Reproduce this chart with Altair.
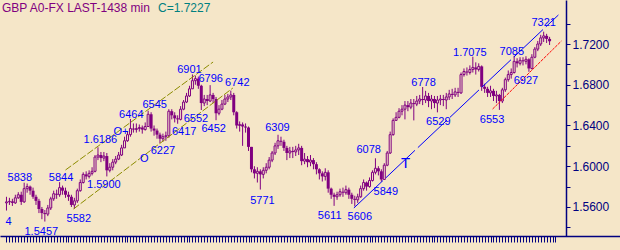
import altair as alt
import pandas as pd

BG = "#F5E6C8"
PURPLE = "#800080"
NAVY = "#000080"
BLUE = "#0000FF"
FONT = "Liberation Sans"

first_open = 15640
closes = [15650, 15655, 15640, 15690, 15720, 15650, 15780, 15800, 15760, 15700,
          15660, 15580, 15540, 15530, 15590, 15680, 15730, 15720, 15790, 15760,
          15720, 15700, 15620, 15660, 15760, 15840, 15920, 15900, 15930, 15950,
          16090, 16110, 16080, 16100, 15960, 15990, 16040, 16070, 16110, 16180,
          16250, 16310, 16370, 16360, 16370, 16380, 16360, 16390, 16510, 16370,
          16350, 16310, 16270, 16290, 16300, 16540, 16500, 16470, 16460, 16560,
          16630, 16690, 16760, 16840, 16860, 16790, 16620, 16660, 16640, 16700,
          16660, 16520, 16560, 16610, 16660, 16680, 16700, 16530, 16400, 16410,
          16390, 16380, 16190, 15970, 15930, 15950, 15920, 15960, 15990, 16060,
          16130, 16200, 16250, 16240, 16180, 16130, 16150, 16140, 16160, 16180,
          16050, 16070, 16040, 16060, 16020, 15970, 15930, 15900, 15940, 15780,
          15720, 15700, 15720, 15750, 15740, 15770, 15720, 15680, 15670, 15700,
          15780, 15840, 15800, 15860, 15940, 15980, 15950, 15870, 16010, 16130,
          16310, 16450, 16480, 16540, 16560, 16600, 16580, 16620, 16610, 16640,
          16660, 16650, 16690, 16640, 16660, 16620, 16650, 16660, 16650, 16680,
          16710, 16700, 16730, 16720, 16900, 16930, 16920, 16950, 16970, 16950,
          16980, 16780, 16760, 16720, 16740, 16690, 16700, 16640, 16750, 16850,
          16900, 16920, 17030, 17010, 17040, 17030, 17050, 16960, 17070, 17150,
          17200, 17260, 17280, 17250, 17227]
highs = [15700, 15690, 15680, 15720, 15745, 15750, 15838, 15830, 15810, 15790,
         15720, 15680, 15600, 15570, 15620, 15700, 15760, 15770, 15844, 15810,
         15790, 15750, 15720, 15690, 15780, 15870, 15940, 15950, 15960, 15990,
         16110, 16186, 16140, 16140, 16130, 16030, 16070, 16100, 16140, 16210,
         16290, 16340, 16464, 16420, 16420, 16410, 16400, 16430, 16545, 16530,
         16400, 16370, 16330, 16320, 16340, 16560, 16560, 16530, 16500, 16590,
         16650, 16720, 16790, 16901, 16890, 16880, 16800, 16700, 16700, 16796,
         16720, 16680, 16600, 16650, 16700, 16710, 16742, 16720, 16540, 16440,
         16430, 16420, 16390, 16190, 16000, 15990, 15970, 15990, 16030, 16090,
         16150, 16230, 16309, 16290, 16260, 16200, 16190, 16190, 16200, 16220,
         16200, 16130, 16100, 16110, 16080, 16040, 15980, 15950, 15980, 15960,
         15790, 15740, 15750, 15780, 15790, 15810, 15790, 15740, 15710, 15730,
         15810, 15870, 15850, 15890, 15960, 16078, 16000, 15970, 16030, 16150,
         16340, 16470, 16530, 16570, 16600, 16640, 16640, 16660, 16660, 16690,
         16700, 16778, 16740, 16720, 16700, 16690, 16690, 16700, 16700, 16720,
         16750, 16760, 16770, 16770, 16920, 16960, 16970, 16990, 17075, 17020,
         17010, 16990, 16810, 16780, 16790, 16760, 16740, 16710, 16770, 16870,
         16940, 16960, 17085, 17060, 17070, 17070, 17080, 17060, 17100, 17170,
         17230, 17290, 17321, 17300, 17270]
lows = [15565, 15620, 15610, 15630, 15680, 15620, 15640, 15740, 15720, 15680,
        15620, 15540, 15480, 15457, 15510, 15570, 15660, 15680, 15700, 15720,
        15690, 15660, 15600, 15582, 15640, 15750, 15830, 15870, 15880, 15910,
        15940, 16060, 16040, 16050, 15900, 15940, 15960, 16020, 16060, 16100,
        16180, 16240, 16290, 16330, 16330, 16340, 16320, 16350, 16390, 16340,
        16300, 16270, 16227, 16240, 16250, 16280, 16460, 16430, 16417, 16450,
        16550, 16620, 16680, 16760, 16800, 16760, 16552, 16590, 16600, 16630,
        16620, 16452, 16500, 16550, 16600, 16630, 16650, 16500, 16370, 16340,
        16200, 16330, 16150, 15940, 15880, 15840, 15771, 15880, 15930, 15970,
        16040, 16110, 16170, 16200, 16150, 16060, 16080, 16080, 16100, 16110,
        16010, 16020, 15990, 16000, 15970, 15920, 15870, 15850, 15860, 15740,
        15680, 15611, 15670, 15700, 15700, 15720, 15680, 15630, 15606, 15640,
        15690, 15760, 15760, 15790, 15850, 15920, 15910, 15849, 15870, 16000,
        16120, 16300, 16450, 16470, 16500, 16460, 16540, 16560, 16450, 16590,
        16610, 16600, 16620, 16580, 16560, 16570, 16529, 16600, 16590, 16560,
        16650, 16660, 16680, 16680, 16710, 16880, 16890, 16900, 16920, 16900,
        16930, 16740, 16720, 16680, 16680, 16640, 16620, 16553, 16620, 16730,
        16830, 16860, 16910, 16970, 16990, 16990, 17000, 16927, 16950, 17060,
        17130, 17180, 17220, 17210, 17190]

# annotations: text, bar index, price
ann_text = ["4", "5838", "1.5457", "5844", "5582", "1.5900", "1.6186", "O+", "6464", "O",
            "6227", "6545", "6417", "6901", "6796", "6552", "6452", "6742", "6309", "5771",
            "5611", "5606", "6078", "5849", "6778", "6529", "1.7075", "6553", "7085",
            "6927", "7321"]
ann_idx = [0.7, 4.5, 11.8, 18.5, 24.5, 33.0, 31.8, 38.8, 42.3, 46.7,
           53.0, 50.2, 60.2, 62.0, 69.2, 64.2, 70.2, 78.2, 91.8, 86.7,
           109.5, 119.7, 122.7, 128.5, 141.3, 146.3, 157.0, 164.5, 171.2,
           176.0, 182.0]
ann_price = [1.5452, 1.5884, 1.5354, 1.5884, 1.5482, 1.5815, 1.6257, 1.6336, 1.6503, 1.6071,
             1.6149, 1.6601, 1.6336, 1.6945, 1.6856, 1.6464, 1.6365, 1.6817, 1.6375, 1.5658,
             1.5511, 1.5501, 1.6159, 1.5747, 1.6817, 1.6434, 1.7112, 1.6454, 1.7121,
             1.6837, 1.7406]
t_idx = [135.2]
t_price = [1.6031]

# trend lines: (idx, price) end points
olive_upper = ([20.0, 70.0], [1.5963, 1.7023])
olive_lower = ([22.7, 76.7], [1.5580, 1.6768])
blue_line = ([117.7, 187.0], [1.5590, 1.7485])
red_line = ([164.7, 188.0], [1.6562, 1.7229])

ytick_vals = [1.54, 1.56, 1.58, 1.60, 1.62, 1.64, 1.66, 1.68, 1.70, 1.72, 1.74]

N = len(closes)
opens = [first_open] + closes[:-1]
df = pd.DataFrame({
    "i": list(range(N)),
    "o": [v / 10000 for v in opens],
    "c": [v / 10000 for v in closes],
    "h": [v / 10000 for v in highs],
    "l": [v / 10000 for v in lows],
})
df["top"] = df[["o", "c"]].max(axis=1)
df["bot"] = df[["o", "c"]].min(axis=1)
df["up"] = df["c"] >= df["o"]

xs = alt.Scale(domain=[-0.5, 620 / 3 - 0.5], nice=False, zero=False)
ys = alt.Scale(domain=[1.5315, 1.7632], nice=False, zero=False)

xaxis = alt.Axis(values=list(range(0, 187)), labels=False, title=None, grid=False,
                 tickSize=6, tickColor=NAVY, domainColor=NAVY, domainWidth=1.5,
                 tickWidth=1)
yaxis = alt.Axis(orient="right", offset=-54, values=ytick_vals, title=None, grid=False,
                 tickSize=4, tickColor=NAVY, domainColor=NAVY, domainWidth=1.5,
                 labelColor=NAVY, labelFont=FONT, labelFontSize=12, labelPadding=2,
                 labelOverlap=False, labelBound=False,
                 labelExpr="round(datum.value*100) % 4 == 0 ? format(datum.value, '.4f') : ''")


def X(field):
    return alt.X(field, type="quantitative", scale=xs, axis=xaxis)


def Y(field):
    return alt.Y(field, type="quantitative", scale=ys, axis=yaxis)


base = alt.Chart(df)

wicks = base.mark_rule(color=PURPLE, strokeWidth=1).encode(
    x=X("i"), y=Y("l"), y2="h:Q")
filled = base.transform_filter("!datum.up").mark_bar(size=3, color=PURPLE).encode(
    x=X("i"), y=Y("top"), y2="bot:Q")
hollow = base.transform_filter("datum.up").mark_bar(size=2, fill=BG, stroke=PURPLE,
                                                    strokeWidth=1).encode(
    x=X("i"), y=Y("top"), y2="bot:Q")


def trend(pts, color, dash=None):
    d = pd.DataFrame({"i": pts[0], "p": pts[1]})
    kw = dict(color=color, strokeWidth=1, clip=True)
    if dash:
        kw["strokeDash"] = dash
    return alt.Chart(d).mark_line(**kw).encode(x=X("i"), y=Y("p"))


lines = [
    trend(olive_upper, "#8C8C00", [7, 2]),
    trend(olive_lower, "#8C8C00", [7, 2]),
    trend(blue_line, BLUE, [40, 4]),
    trend(red_line, "#FF0000", [3, 1]),
]

adf = pd.DataFrame({"t": ann_text, "i": ann_idx, "p": ann_price})
labels = alt.Chart(adf).mark_text(color=BLUE, font=FONT, fontSize=11, align="center",
                                  baseline="middle").encode(
    x=X("i"), y=Y("p"), text="t:N")
tdf = pd.DataFrame({"t": ["T"], "i": t_idx, "p": t_price})
tlabel = alt.Chart(tdf).mark_text(color=BLUE, font=FONT, fontSize=15, align="center",
                                  baseline="middle").encode(
    x=X("i"), y=Y("p"), text="t:N")

title_df = pd.DataFrame({"a": ["GBP A0-FX LAST-1438 min"], "b": ["C=1.7227"]})
title1 = alt.Chart(title_df).mark_text(color=PURPLE, font=FONT, fontSize=12, align="left",
                                       baseline="middle").encode(
    x=alt.value(2), y=alt.value(8), text="a:N")
title2 = alt.Chart(title_df).mark_text(color="#008080", font=FONT, fontSize=12, align="left",
                                       baseline="middle").encode(
    x=alt.value(158), y=alt.value(8), text="b:N")

chart = alt.layer(wicks, filled, hollow, *lines, labels, tlabel, title1, title2).properties(
    width=620, height=236, background=BG,
    padding={"left": 0, "top": 0, "right": 0, "bottom": 14},
    autosize="none",
).configure_view(stroke=None, fill=BG)

chart.save("out.html", embed_options={"renderer": "svg", "actions": False})
